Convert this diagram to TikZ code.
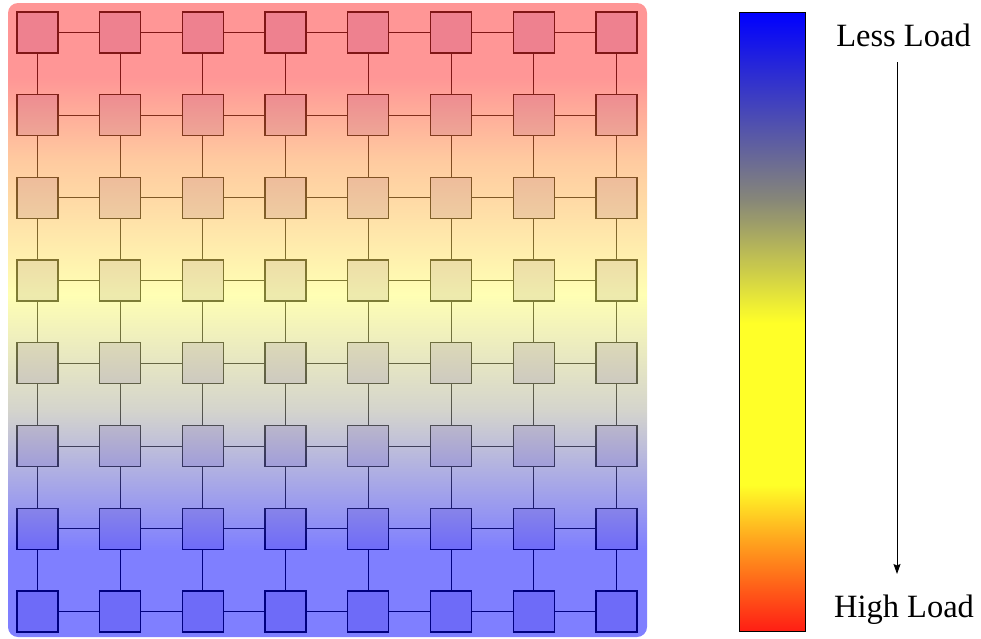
\documentclass[tikz,border=0pt]{standalone}
\usepackage{fontspec}
\setmainfont{Liberation Serif}
\usetikzlibrary{arrows.meta}
\definecolor{cbred}{RGB}{255,30,20}
\definecolor{cborange}{RGB}{255,165,30}
\definecolor{cbyellow}{RGB}{255,255,40}
\definecolor{cbgray}{RGB}{135,135,120}
\definecolor{cbblue}{RGB}{0,0,255}
\definecolor{pred}{RGB}{255,45,45}
\definecolor{porange}{RGB}{255,150,65}
\definecolor{pyellow}{RGB}{255,255,105}
\definecolor{pgray}{RGB}{170,170,155}
\definecolor{pblue}{RGB}{0,0,255}
\definecolor{cellfill}{RGB}{222,215,242}
\pgfdeclareverticalshading{cbshade}{100bp}{color(0bp)=(cbred); color(25bp)=(cbred); color(32.35bp)=(cborange); color(36.8bp)=(cbyellow); color(49.9bp)=(cbyellow); color(59.8bp)=(cbgray); color(75bp)=(cbblue); color(100bp)=(cbblue)}
\pgfdeclareverticalshading{panelshade}{100bp}{color(0bp)=(pblue); color(31.9bp)=(pblue); color(42.9bp)=(pgray); color(52bp)=(pyellow); color(62.6bp)=(porange); color(69.2bp)=(pred); color(100bp)=(pred)}
\tikzset{
  cell/.style={draw=black, line width=1.3pt, fill=cellfill, minimum size=41pt, inner sep=0pt, outer sep=0pt},
  link/.style={draw=black, line width=1pt},
  lbl/.style={font=\fontsize{32.5}{38}\selectfont, inner sep=0pt},
}
\begin{document}
\begin{tikzpicture}[x=1pt,y=-1pt]
\useasboundingbox (0,0) rectangle (981,638);
% grid
\foreach \i in {0,...,7}{
  \foreach \j in {0,...,7}{
    \node[cell] (s-\i-\j) at ({37.5+82.7*\j},{32.5+82.7*\i}) {};
  }
}
\foreach \i in {0,...,7}{
  \foreach \j in {0,...,6}{
    \pgfmathtruncatemacro{\k}{\j+1}
    \draw[link] (s-\i-\j) -- (s-\i-\k);
    \draw[link] (s-\j-\i) -- (s-\k-\i);
  }
}
% translucent gradient overlay
\shade[shading=panelshade, fill opacity=0.5, rounded corners=10pt] (8,3) rectangle (647,637);
% colour bar
\node[shade, shading=cbshade, draw=black, line width=1pt, minimum width=66pt, minimum height=619pt, inner sep=0pt] (bar) at (772.5,321.5) {};
% labels
\node[lbl, anchor=base] (less) at (903.5,46) {Less Load};
\node[lbl, anchor=base] (high) at (904,617) {High Load};
\coordinate (a1) at (897,62);
\coordinate (a2) at (897,574);
\draw[line width=1pt, -{Stealth[length=10pt,width=7pt,inset=1.5pt]}] (a1) -- (a2);
\end{tikzpicture}
\end{document}
